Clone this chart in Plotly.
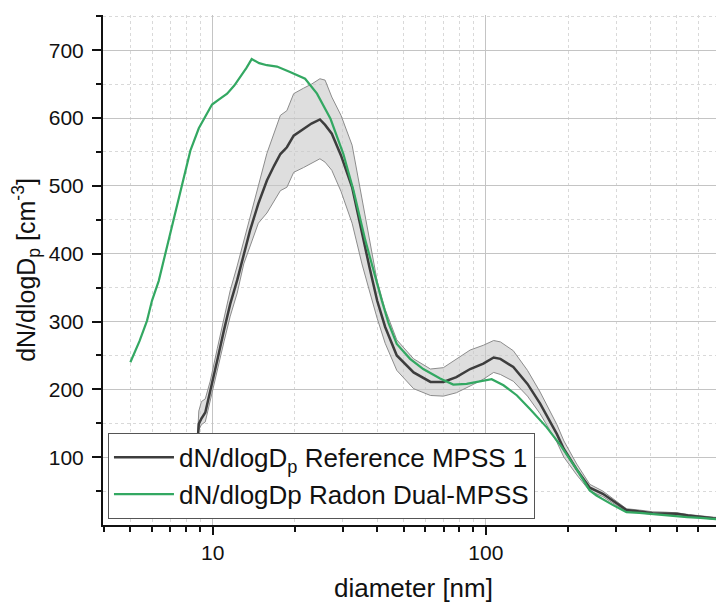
import numpy as np
import plotly.graph_objects as go

# ---------------- data ----------------
ref_diameter = [8.7, 8.8, 8.9, 9.1, 9.4, 9.8, 10.4, 11.0, 11.6, 12.3, 13.0, 13.7, 14.7, 15.8,
                16.8, 17.7, 18.7, 19.8, 21.5, 23.0, 24.7, 25.8, 27.3, 29.5, 32.4, 35.2, 37.5,
                40.0, 42.8, 47.2, 54.4, 62.7, 69.9, 78, 87.6, 97.9, 106.8, 113, 126, 142, 158,
                182, 193, 215, 240, 268, 300, 327, 365, 408, 450, 500, 550, 610, 680, 744]
ref_mean = [30, 120, 149, 157, 166, 196, 243, 287, 326, 361, 400, 434, 474, 508,
            530, 547, 557, 574, 584, 592, 598, 590, 577, 545, 498, 430, 380,
            331, 292, 250, 225, 211, 211, 218, 230, 238, 247, 245, 233, 208, 179,
            134, 112, 82, 55, 46, 32, 22, 20, 17.5, 17, 16.5, 14, 11.5, 10, 9]
ref_upper = [35, 128, 168, 182, 186, 212, 260, 305, 346, 382, 420, 455, 500, 548,
             580, 604, 611, 636, 644, 650, 658, 656, 631, 604, 560, 479, 420,
             360, 318, 273, 245, 230, 232, 244, 258, 265, 272, 270, 257, 228, 196,
             148, 124, 90, 60, 50, 35, 24, 22, 19.5, 19, 18, 15.5, 13, 11.5, 10.5]
ref_lower = [25, 110, 140, 148, 152, 180, 228, 270, 308, 342, 385, 412, 445, 460,
             478, 493, 498, 520, 527, 533, 540, 535, 523, 492, 445, 385, 345,
             305, 268, 228, 201, 191, 190, 195, 205, 215, 225, 222, 212, 190, 164,
             122, 100, 74, 50, 42, 29, 20, 18, 15.5, 15, 15, 12.5, 10, 8.5, 7.5]

radon_diameter = [5.0, 5.4, 5.75, 6.0, 6.35, 6.81, 7.3, 7.73, 8.29, 8.9, 9.5, 9.95, 10.5,
                  11.3, 12.0, 12.6, 13.3, 13.9, 14.8, 15.8, 17.2, 19.2, 21.8, 24.1, 27,
                  30.1, 32.8, 36.2, 39.4, 41.6, 44, 47.2, 52.8, 59, 68, 76, 85, 95, 105,
                  116, 130, 145, 167, 188, 215, 240, 254, 290, 327, 365, 400, 440, 483,
                  545, 609, 680, 744]
radon_values = [240, 271, 301, 331, 360, 410, 457, 498, 552, 585, 606, 620, 627,
                636, 648, 660, 674, 687, 681, 678, 676, 668, 658, 636, 599,
                547, 493, 420, 365, 331, 298, 267, 245, 230, 216, 207, 208, 212, 215,
                206, 191, 171, 144, 117, 82, 51, 43.5, 30, 19, 18, 16.5, 14.5, 12.5,
                11.5, 10.6, 9, 7.6]

x_major_ticks = [10, 100]
x_major_labels = ["10", "100"]
x_minor_ticks = [4, 5, 6, 7, 8, 9, 20, 30, 40, 50, 60, 70, 80, 90, 200, 300, 400, 500, 600, 700]
y_major_ticks = [100, 200, 300, 400, 500, 600, 700]
y_minor_ticks = [50, 150, 250, 350, 450, 550, 650, 750]

FONT = "Liberation Sans, Arial, sans-serif"

fig = go.Figure()

# uncertainty band of the reference MPSS
band_x = list(ref_diameter) + list(reversed(ref_diameter))
band_y = list(ref_upper) + list(reversed(ref_lower))
fig.add_trace(go.Scatter(
    x=band_x, y=band_y, mode="lines", fill="toself",
    fillcolor="rgba(200,200,200,0.6)",
    line=dict(color="#8c8c8c", width=1),
    showlegend=False, hoverinfo="skip"))

fig.add_trace(go.Scatter(
    x=ref_diameter, y=ref_mean, mode="lines",
    line=dict(color="#3d3d3d", width=2.5),
    name="dN/dlogD<sub>p</sub> Reference MPSS 1"))

fig.add_trace(go.Scatter(
    x=radon_diameter, y=radon_values, mode="lines",
    line=dict(color="#33a862", width=2.2),
    name="dN/dlogDp Radon Dual-MPSS"))

grid_major = "#c4c4c4"
grid_minor = "#d9d9d9"

# the page body adds an 8px offset, so the figure is 8px smaller than the window
fig.update_layout(
    width=716, height=595,
    margin=dict(l=95, r=0, t=7, b=78),
    paper_bgcolor="white", plot_bgcolor="white",
    font=dict(family=FONT, color="#111111"),
    showlegend=True,
    legend=dict(
        x=0.008, y=0.012, xanchor="left", yanchor="bottom",
        bgcolor="white", bordercolor="#555555", borderwidth=1,
        font=dict(family=FONT, size=26, color="#111111"),
        itemwidth=60, tracegroupgap=0),
    xaxis=dict(
        type="log",
        range=[np.log10(3.97), np.log10(744)],
        tickmode="array", tickvals=x_major_ticks, ticktext=x_major_labels,
        ticks="outside", ticklen=8, tickwidth=2, tickcolor="#111111",
        showline=True, linecolor="#111111", linewidth=2, mirror=False,
        showgrid=True, gridcolor=grid_major, gridwidth=1.2,
        zeroline=False,
        tickfont=dict(family=FONT, size=21, color="#111111"),
        title=dict(text="diameter [nm]", font=dict(family=FONT, size=26, color="#111111"), standoff=16),
        minor=dict(tickmode="array", tickvals=x_minor_ticks, ticks="outside", ticklen=5,
                   tickwidth=2, tickcolor="#111111", showgrid=True, gridcolor=grid_minor,
                   gridwidth=1, griddash="3px,3px"),
    ),
    yaxis=dict(
        range=[0, 752],
        tickmode="array", tickvals=y_major_ticks,
        ticks="outside", ticklen=9, tickwidth=2, tickcolor="#111111",
        ticklabelstandoff=4,
        showline=True, linecolor="#111111", linewidth=2, mirror=False,
        showgrid=True, gridcolor=grid_major, gridwidth=1.2,
        zeroline=False,
        tickfont=dict(family=FONT, size=21, color="#111111"),
        title=dict(text="dN/dlogD<sub>p</sub> [cm<sup>-3</sup>]",
                   font=dict(family=FONT, size=25, color="#111111"), standoff=13),
        minor=dict(tickmode="array", tickvals=y_minor_ticks, ticks="outside", ticklen=5,
                   tickwidth=2, tickcolor="#111111", showgrid=True, gridcolor=grid_minor,
                   gridwidth=1, griddash="3px,3px"),
    ),
)

fig.write_html("out.html")
